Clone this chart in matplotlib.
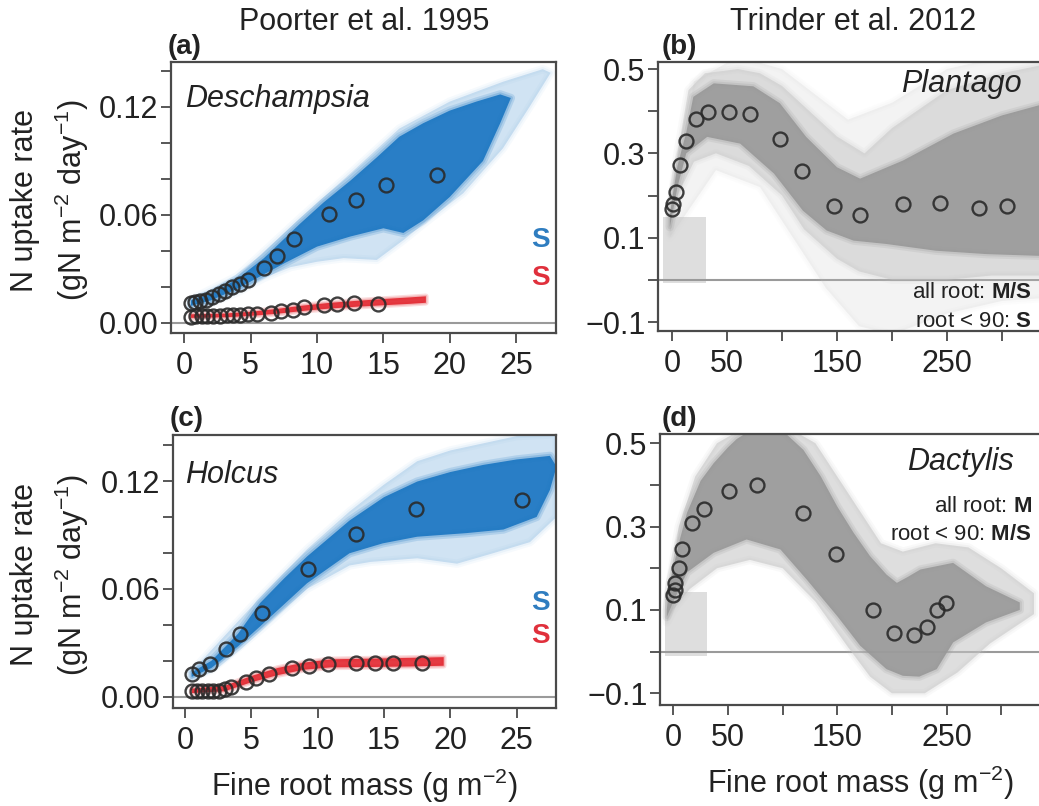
import matplotlib
matplotlib.use('Agg')
import matplotlib.pyplot as plt
from matplotlib.patches import Polygon

plt.rcParams['font.family'] = ['Liberation Sans', 'DejaVu Sans']
plt.rcParams['mathtext.fontset'] = 'custom'
plt.rcParams['mathtext.rm'] = 'Liberation Sans'
plt.rcParams['mathtext.it'] = 'Liberation Sans:italic'
plt.rcParams['mathtext.bf'] = 'Liberation Sans:bold'

# ---------------- DATA ----------------
# Panel (a) Deschampsia - observed points
a_blue_x = [0.5, 0.8, 1.2, 1.6, 2.1, 2.6, 3.1, 3.6, 4.2, 4.8, 6.0, 7.0, 8.3, 10.9, 12.9, 15.2, 19.0]
a_blue_y = [0.011, 0.0115, 0.012, 0.013, 0.0145, 0.016, 0.018, 0.0198, 0.0215, 0.0239, 0.0304, 0.0374,
            0.0465, 0.0604, 0.0685, 0.0767, 0.0822]
a_red_x = [0.5, 0.9, 1.3, 1.7, 2.2, 2.7, 3.2, 3.7, 4.2, 4.8, 5.5, 6.5, 7.3, 8.2, 9.05, 10.5, 11.5, 12.8, 14.6]
a_red_y = [0.0035, 0.0036, 0.0037, 0.0038, 0.0039, 0.0041, 0.0042, 0.0044, 0.0046, 0.0048, 0.0051, 0.0054,
           0.0064, 0.0074, 0.0087, 0.0098, 0.0106, 0.0109, 0.0106]
# Panel (a) ensemble envelopes (upper edge, lower edge)
a_blue_in_ux = [0.5, 2, 4, 6, 8.7, 10.5, 12.5, 14.5, 16.2, 18, 20, 22, 23.8, 24.6]
a_blue_in_uy = [0.0125, 0.016, 0.0245, 0.036, 0.055, 0.067, 0.079, 0.092, 0.1035, 0.111, 0.118, 0.123, 0.127, 0.125]
a_blue_in_lx = [0.5, 2, 4, 6, 7.5, 10, 12.5, 15, 16.5, 18, 20, 22.5, 23.8, 24.6]
a_blue_in_ly = [0.0095, 0.0125, 0.019, 0.027, 0.033, 0.0424, 0.048, 0.0526, 0.050, 0.057, 0.070, 0.090, 0.111, 0.125]
a_blue_out_ux = [0.5, 4, 8.7, 12.5, 16.2, 20, 24, 27, 27.6]
a_blue_out_uy = [0.013, 0.026, 0.058, 0.083, 0.108, 0.123, 0.134, 0.141, 0.139]
a_blue_out_lx = [0.5, 2, 4, 6, 8, 10, 12, 14.5, 16.5, 18, 21, 24, 26, 27.6]
a_blue_out_ly = [0.009, 0.011, 0.017, 0.025, 0.031, 0.034, 0.036, 0.035, 0.046, 0.055, 0.072, 0.097, 0.120, 0.139]
a_red_ux = [0.5, 3, 5, 7, 9, 11, 13, 15, 17, 18.2]
a_red_uy = [0.0048, 0.0052, 0.0062, 0.0078, 0.0097, 0.0112, 0.0123, 0.0133, 0.0142, 0.0148]
a_red_lx = [0.5, 3, 5, 7, 9, 11, 13, 15, 17, 18.2]
a_red_ly = [0.0028, 0.0031, 0.0039, 0.0051, 0.0067, 0.0080, 0.0090, 0.0098, 0.0106, 0.0112]

# Panel (c) Holcus - observed points
c_blue_x = [0.5, 1.08, 1.88, 3.09, 4.14, 5.78, 9.25, 12.86, 17.4, 25.4]
c_blue_y = [0.0125, 0.0152, 0.018, 0.0265, 0.0349, 0.0464, 0.0709, 0.0905, 0.1043, 0.1095]
c_red_x = [0.5, 0.9, 1.3, 1.7, 2.1, 2.6, 3.0, 3.5, 4.6, 5.35, 6.33, 8.04, 9.35, 10.75, 12.9, 14.3, 15.7, 17.9]
c_red_y = [0.003, 0.003, 0.003, 0.003, 0.0031, 0.0034, 0.0040, 0.0052, 0.0084, 0.0102, 0.0126, 0.0158,
           0.0171, 0.0182, 0.0186, 0.0186, 0.0186, 0.0186]
c_blue_in_ux = [0.5, 2, 4, 5.65, 7.5, 9.2, 12.4, 15, 17.5, 20, 22.5, 25, 27.5, 28]
c_blue_in_uy = [0.0135, 0.02, 0.035, 0.052, 0.066, 0.078, 0.098, 0.111, 0.1197, 0.125, 0.129, 0.132, 0.134, 0.128]
c_blue_in_lx = [0.5, 2, 4, 5.65, 9.2, 12.4, 14.9, 17.5, 21.2, 24, 26.5, 27.5, 28]
c_blue_in_ly = [0.011, 0.016, 0.028, 0.039, 0.0631, 0.0798, 0.0853, 0.089, 0.091, 0.093, 0.100, 0.115, 0.128]
c_blue_out_ux = [0.5, 5.65, 9.2, 12.4, 15, 17.5, 20, 25, 28]
c_blue_out_uy = [0.014, 0.055, 0.082, 0.103, 0.118, 0.131, 0.137, 0.145, 0.146]
c_blue_out_lx = [0.5, 2, 5.65, 9.2, 12.4, 14, 17.5, 20.5, 23.3, 26, 28]
c_blue_out_ly = [0.010, 0.015, 0.037, 0.060, 0.073, 0.075, 0.077, 0.074, 0.080, 0.086, 0.10]
c_red_ux = [0.5, 3, 5, 7, 9, 11, 14, 17, 19.5]
c_red_uy = [0.0045, 0.0060, 0.0115, 0.0160, 0.0190, 0.0208, 0.0212, 0.0216, 0.0220]
c_red_lx = [0.5, 3, 5, 7, 9, 11, 14, 17, 19.5]
c_red_ly = [0.0020, 0.0030, 0.0080, 0.0120, 0.0150, 0.0163, 0.0165, 0.0168, 0.0172]

# Panel (b) Plantago
b_x = [-0.3, 1.2, 3.6, 7.3, 12.4, 21.8, 32.4, 51.8, 70.9, 98.2, 118.5, 147.3, 170.9, 210.3, 243.6, 279.4, 304.2]
b_y = [0.168, 0.18, 0.208, 0.273, 0.329, 0.381, 0.398, 0.398, 0.393, 0.335, 0.258, 0.176, 0.154, 0.18,
       0.183, 0.17, 0.175]
b_in_ux = [-2, 0, 5, 13, 19.4, 38, 74, 98, 122, 150, 171, 210, 256, 300, 356]
b_in_uy = [0.15, 0.19, 0.27, 0.35, 0.434, 0.466, 0.459, 0.419, 0.339, 0.267, 0.24, 0.283, 0.347, 0.39, 0.43]
b_in_lx = [-2, 0, 5, 13, 32, 62, 92.7, 119, 140.6, 165, 195, 240, 286, 356]
b_in_ly = [0.125, 0.15, 0.22, 0.30, 0.339, 0.323, 0.252, 0.164, 0.117, 0.093, 0.085, 0.069, 0.061, 0.055]
b_out_ux = [-2, 5, 15, 30, 60, 80, 100, 125, 150, 175, 200, 250, 300, 356]
b_out_uy = [0.16, 0.30, 0.45, 0.49, 0.50, 0.49, 0.46, 0.40, 0.34, 0.30, 0.36, 0.45, 0.49, 0.52]
b_out_lx = [-2, 0, 5, 20, 40, 70, 100, 120, 150, 170, 200, 250, 290, 356]
b_out_ly = [0.11, 0.13, 0.20, 0.28, 0.30, 0.27, 0.20, 0.12, 0.05, 0.02, 0.0, 0.0, 0.01, 0.01]
b_far_ux = [-2, 20, 60, 100, 130, 160, 200, 250, 300, 356]
b_far_uy = [0.16, 0.47, 0.53, 0.50, 0.44, 0.38, 0.42, 0.50, 0.53, 0.55]
b_far_lx = [-2, 40, 80, 110, 140, 170, 200, 250, 300, 356]
b_far_ly = [0.10, 0.26, 0.22, 0.10, -0.02, -0.11, -0.13, -0.08, -0.05, -0.04]
b_box_x = [-8, 31]
b_box_y = [-0.007, 0.15]

# Panel (d) Dactylis
d_x = [-0.6, 1.2, 1.8, 4.9, 7.9, 17.1, 28.4, 51.2, 76.5, 118.3, 149.1, 182.6, 201.5, 220.4, 232, 241.2, 249.7]
d_y = [0.136, 0.149, 0.165, 0.201, 0.247, 0.309, 0.342, 0.386, 0.400, 0.333, 0.235, 0.101, 0.044, 0.039,
       0.060, 0.101, 0.116]
d_in_ux = [-6, -3, 5, 12.5, 25, 36.9, 50, 58, 70, 100, 119, 135, 150, 165, 180, 195, 204.5, 215, 226, 256, 286, 317]
d_in_uy = [0.10, 0.166, 0.26, 0.333, 0.41, 0.452, 0.49, 0.51, 0.53, 0.53, 0.484, 0.42, 0.348, 0.285, 0.229,
           0.185, 0.165, 0.18, 0.197, 0.213, 0.157, 0.118]
d_in_lx = [-6, 0, 12.5, 36.9, 67, 98, 122, 150, 171, 195, 210, 225, 241, 256, 286, 317]
d_in_ly = [0.083, 0.12, 0.19, 0.237, 0.269, 0.245, 0.173, 0.085, 0.014, -0.042, -0.058, -0.06, -0.042, 0.022, 0.07, 0.10]
d_out_ux = [-6, 5, 20, 40, 60, 110, 130, 150, 170, 190, 210, 240, 270, 300, 330]
d_out_uy = [0.12, 0.30, 0.42, 0.50, 0.53, 0.53, 0.50, 0.42, 0.34, 0.26, 0.24, 0.26, 0.25, 0.20, 0.14]
d_out_lx = [-6, 0, 15, 40, 70, 100, 130, 160, 180, 200, 230, 260, 290, 330]
d_out_ly = [0.07, 0.10, 0.15, 0.20, 0.22, 0.20, 0.12, 0.01, -0.06, -0.10, -0.10, -0.05, 0.02, 0.09]
d_box_x = [-7.3, 31]
d_box_y = [-0.01, 0.144]

a_yticks = [0.0, 0.02, 0.04, 0.06, 0.08, 0.10, 0.12, 0.14]
a_ylabels = ['0.00', '', '', '0.06', '', '', '0.12', '']
a_xticks = [0, 5, 10, 15, 20, 25]
b_yticks = [-0.1, 0.0, 0.1, 0.2, 0.3, 0.4, 0.5]
b_ylabels = ['\u22120.1', '', '0.1', '', '0.3', '', '0.5']
b_xticks = [0, 50, 100, 150, 200, 250, 300]
b_xlabels = ['0', '50', '', '150', '', '250', '']

# ---------------- STYLE ----------------
W, H = 1039, 806
BLUE = '#2079c4'
BLUE_L = '#8ab9e3'
RED = '#e3262e'
GRAY = '#999999'
GRAY_L = '#c4c4c4'
GRAY_F = '#dedede'
SPINE = '#4a4a4a'
TXT = '#222222'
FS = 22

fig = plt.figure(figsize=(W / 100, H / 100), dpi=100)


def rect(l, t, r, b):
    return [l / W, 1 - b / H, (r - l) / W, (b - t) / H]


def band(ax, ux, uy, lx, ly, color, alpha, z=1, soft=6):
    xs = list(ux) + list(lx)[::-1]
    ys = list(uy) + list(ly)[::-1]
    ax.fill(xs, ys, color=color, alpha=alpha, lw=0, zorder=z)
    # soft, feathered outline
    for lw, a in ((soft, 0.18), (soft * 0.5, 0.25)):
        ax.add_patch(Polygon(list(zip(xs, ys)), closed=True, fill=False, edgecolor=color,
                             lw=lw, alpha=alpha * a, joinstyle='round', zorder=z))


def circles(ax, x, y):
    ax.plot(x, y, 'o', ms=10, mfc='none', mec='#2a2a2a', mew=1.7, zorder=5, alpha=0.9)


def style(ax):
    for s in ax.spines.values():
        s.set_color(SPINE)
        s.set_linewidth(1.6)
    ax.tick_params(direction='out', length=7, width=1.3, color=SPINE, labelcolor=TXT, labelsize=FS)
    ax.tick_params(axis='x', pad=6)
    ax.tick_params(axis='y', pad=2)


ax_a = fig.add_axes(rect(171, 62, 556, 333))
ax_c = fig.add_axes(rect(173, 435, 556, 708))
ax_b = fig.add_axes(rect(658, 62, 1062, 331))
ax_d = fig.add_axes(rect(660, 434, 1062, 705))

# Panel a
ax = ax_a
ax.axhline(0, color='#9a9a9a', lw=1.5, zorder=0.5)
band(ax, a_blue_out_ux, a_blue_out_uy, a_blue_out_lx, a_blue_out_ly, BLUE_L, 0.4)
band(ax, a_blue_in_ux, a_blue_in_uy, a_blue_in_lx, a_blue_in_ly, BLUE, 0.95, 2)
band(ax, a_red_ux, a_red_uy, a_red_lx, a_red_ly, RED, 0.9, 2, soft=4)
circles(ax, a_blue_x, a_blue_y)
circles(ax, a_red_x, a_red_y)
ax.set_xlim(-1, 28)
ax.set_ylim(-0.0056, 0.145)

# Panel c
ax = ax_c
ax.axhline(0, color='#9a9a9a', lw=1.5, zorder=0.5)
band(ax, c_blue_out_ux, c_blue_out_uy, c_blue_out_lx, c_blue_out_ly, BLUE_L, 0.4)
band(ax, c_blue_in_ux, c_blue_in_uy, c_blue_in_lx, c_blue_in_ly, BLUE, 0.95, 2)
band(ax, c_red_ux, c_red_uy, c_red_lx, c_red_ly, RED, 0.9, 2, soft=4)
circles(ax, c_blue_x, c_blue_y)
circles(ax, c_red_x, c_red_y)
ax.set_xlim(-0.9, 27.96)
ax.set_ylim(-0.0063, 0.1456)

for ax in (ax_a, ax_c):
    ax.set_yticks(a_yticks)
    ax.set_yticklabels(a_ylabels)
    ax.set_xticks(a_xticks)
    ax.set_xticklabels([str(v) for v in a_xticks])
    style(ax)

# Panel b
ax = ax_b
ax.fill_between(b_box_x, b_box_y[0], b_box_y[1], color=GRAY_F, lw=0, zorder=0.3)
ax.axhline(0, color='#9a9a9a', lw=1.5, zorder=0.5)
band(ax, b_far_ux, b_far_uy, b_far_lx, b_far_ly, GRAY_L, 0.2)
band(ax, b_out_ux, b_out_uy, b_out_lx, b_out_ly, GRAY_L, 0.5)
band(ax, b_in_ux, b_in_uy, b_in_lx, b_in_ly, GRAY, 0.9, 2)
circles(ax, b_x, b_y)
ax.set_xlim(-12.7, 354.5)
ax.set_ylim(-0.1213, 0.5166)

# Panel d
ax = ax_d
ax.fill_between(d_box_x, d_box_y[0], d_box_y[1], color=GRAY_F, lw=0, zorder=0.3)
ax.axhline(0, color='#9a9a9a', lw=1.5, zorder=0.5)
band(ax, d_out_ux, d_out_uy, d_out_lx, d_out_ly, GRAY_L, 0.55)
band(ax, d_in_ux, d_in_uy, d_in_lx, d_in_ly, GRAY, 0.9, 2)
circles(ax, d_x, d_y)
ax.set_xlim(-12.2, 355.6)
ax.set_ylim(-0.128, 0.522)

for ax in (ax_b, ax_d):
    ax.set_yticks(b_yticks)
    ax.set_yticklabels(b_ylabels)
    ax.set_xticks(b_xticks)
    ax.set_xticklabels(b_xlabels)
    style(ax)

for ax in (ax_c, ax_d):
    ax.set_xlabel('Fine root mass (g m$^{-2}$)', fontsize=FS, color=TXT, labelpad=8)


def ftext(x, y, s, **kw):
    kw.setdefault('color', TXT)
    fig.text(x / W, 1 - y / H, s, **kw)


# Titles and panel labels
ftext(364, 22, 'Poorter et al. 1995', fontsize=FS, ha='center', va='center')
ftext(853, 22, 'Trinder et al. 2012', fontsize=FS, ha='center', va='center')
ftext(168, 54, '(a)', fontsize=FS - 2, fontweight='bold', ha='left', va='baseline')
ftext(662, 54, '(b)', fontsize=FS - 2, fontweight='bold', ha='left', va='baseline')
ftext(170, 426, '(c)', fontsize=FS - 2, fontweight='bold', ha='left', va='baseline')
ftext(662, 426, '(d)', fontsize=FS - 2, fontweight='bold', ha='left', va='baseline')

# Y labels
for yc in (200, 575):
    ftext(25, yc, 'N uptake rate', fontsize=FS, rotation=90, ha='center', va='center')
    ftext(72, yc, '(gN m$^{-2}$ day$^{-1}$)', fontsize=FS, rotation=90, ha='center', va='center')

# Species names
ftext(185, 107, 'Deschampsia', fontsize=FS, style='italic', ha='left', va='baseline')
ftext(185, 483, 'Holcus', fontsize=FS, style='italic', ha='left', va='baseline')
ftext(1022, 92, 'Plantago', fontsize=FS, style='italic', ha='right', va='baseline')
ftext(1014, 470, 'Dactylis', fontsize=FS, style='italic', ha='right', va='baseline')

# S markers
ftext(550, 247, 'S', fontsize=20, fontweight='bold', color='#2f7dc0', ha='right', va='baseline')
ftext(550, 285, 'S', fontsize=20, fontweight='bold', color='#e0303c', ha='right', va='baseline')
ftext(550, 610, 'S', fontsize=20, fontweight='bold', color='#2f7dc0', ha='right', va='baseline')
ftext(550, 643, 'S', fontsize=20, fontweight='bold', color='#e0303c', ha='right', va='baseline')

# Test annotations
AFS = 16
ftext(1032, 298, r'all root: $\mathbf{M/S}$', fontsize=AFS, ha='right', va='baseline')
ftext(1032, 327, r'root < 90: $\mathbf{S}$', fontsize=AFS, ha='right', va='baseline')
ftext(1032, 512, r'all root: $\mathbf{M}$', fontsize=AFS, ha='right', va='baseline')
ftext(1032, 540, r'root < 90: $\mathbf{M/S}$', fontsize=AFS, ha='right', va='baseline')

fig.savefig('out.png', dpi=100)
